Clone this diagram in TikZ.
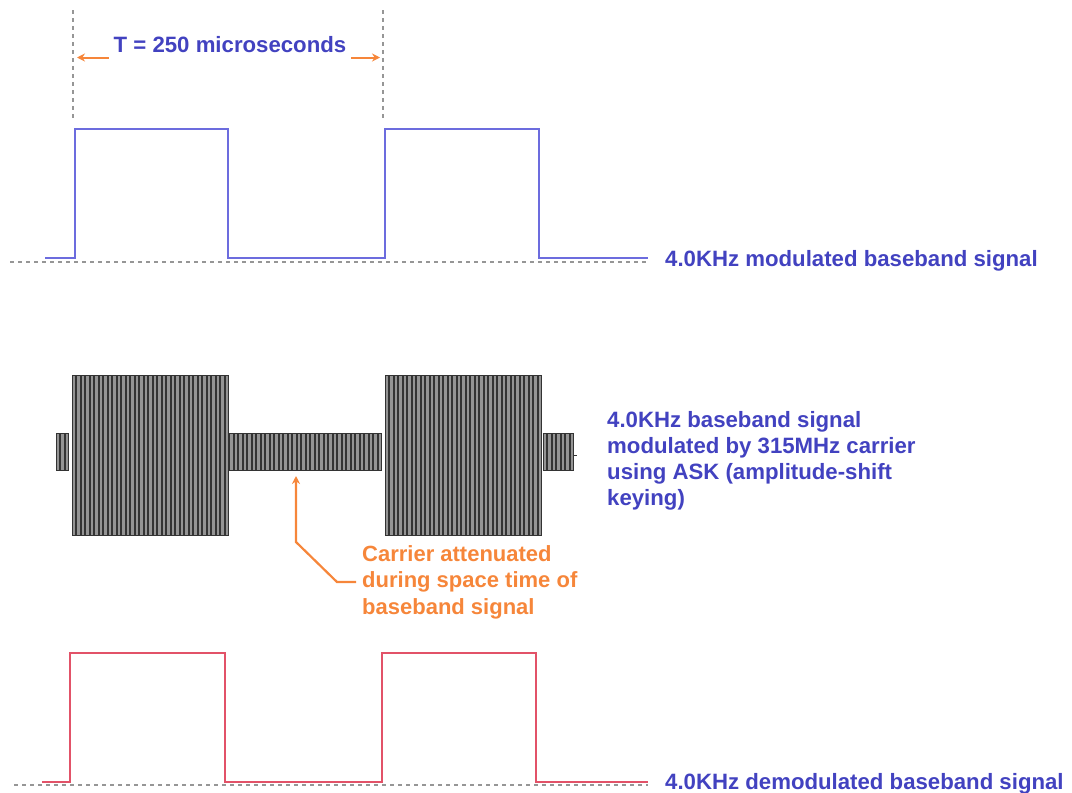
\documentclass[tikz,border=0pt]{standalone}
\usepackage{fontspec}
\setmainfont{Liberation Sans}
\usetikzlibrary{positioning,arrows.meta}

\definecolor{pulseblue}{RGB}{108,108,222}
\definecolor{labelblue}{RGB}{66,66,192}
\definecolor{noteorange}{RGB}{246,134,58}
\definecolor{pulsered}{RGB}{226,82,104}
\definecolor{gridgray}{RGB}{150,150,150}

% bars of the carrier: start x, count, top y, bottom y
\newcommand{\carrierbars}[4]{%
  \foreach \i in {1,...,#2}{
    \filldraw[bar] ({#1+(\i-1)*4.5},#3) rectangle ++(3.4,#4-#3);
  }%
}

\begin{document}
\begin{tikzpicture}[x=1pt,y=-1pt]
\tikzstyle{bluetext} = [text=labelblue, font=\fontsize{22.2}{26}\selectfont\bfseries, inner sep=0pt]
\tikzstyle{notetext} = [text=noteorange, font=\fontsize{22}{26.5}\selectfont\bfseries, inner sep=0pt, align=left]
\tikzstyle{zeroline} = [gridgray, line width=1.1pt, dash pattern=on 4pt off 4pt]
\tikzstyle{pulse} = [line width=1.6pt]
\tikzstyle{bar} = [fill=black!42, draw=black!80, line width=0.5pt]
\tikzstyle{pointer} = [draw=noteorange, line width=2pt, ->, >={Stealth[length=8pt,width=8pt]}]

\useasboundingbox (0,0) rectangle (1072,793);

% top: baseband signal
\draw [zeroline] (73,10) -- (73,118);
\draw [zeroline] (383,10) -- (383,118);
\draw [zeroline] (10,262) -- (648,262);
\draw [pulse, pulseblue] (45,258) -- (75,258) -- (75,129) -- (228,129) -- (228,258)
  -- (385,258) -- (385,129) -- (539,129) -- (539,258) -- (648,258);

\node (period) [bluetext, anchor=base] at (230,52) {T = 250 microseconds};
\coordinate (tleft) at (77,57.5);
\coordinate (tright) at (380,57.5);
\draw [pointer] ([xshift=-5pt]period.west |- tleft) -- (tleft);
\draw [pointer] ([xshift=5pt]period.east |- tright) -- (tright);

\node (toplabel) [bluetext, anchor=base west] at (665,266) {4.0KHz modulated baseband signal};

% middle: ASK carrier
\carrierbars{56}{3}{433}{470}
\carrierbars{72}{35}{375}{535}
\carrierbars{229.5}{34}{433}{470}
\carrierbars{385}{35}{375}{535}
\carrierbars{543}{7}{433}{470}
\draw [black!80, line width=0.8pt] (573,455) -- (577,455);

\node (asklabel) [bluetext, anchor=north west, align=left] at (607,411)
  {4.0KHz baseband signal\\modulated by 315MHz carrier\\using ASK (amplitude-shift\\keying)};

\node (note) [notetext, anchor=north west] at (362,545)
  {Carrier attenuated\\during space time of\\baseband signal};
\coordinate (bend) at (296,542);
\coordinate (dip) at (296,476);
\draw [pointer, line width=2.2pt] ([xshift=-6pt]note.west) -- ++(-19,0) -- (bend) -- (dip);

% bottom: demodulated signal
\draw [zeroline] (14,785) -- (648,785);
\draw [pulse, pulsered] (42,782) -- (70,782) -- (70,653) -- (225,653) -- (225,782)
  -- (382,782) -- (382,653) -- (536,653) -- (536,782) -- (648,782);

\node (botlabel) [bluetext, anchor=base west] at (665,789) {4.0KHz demodulated baseband signal};
\end{tikzpicture}
\end{document}
